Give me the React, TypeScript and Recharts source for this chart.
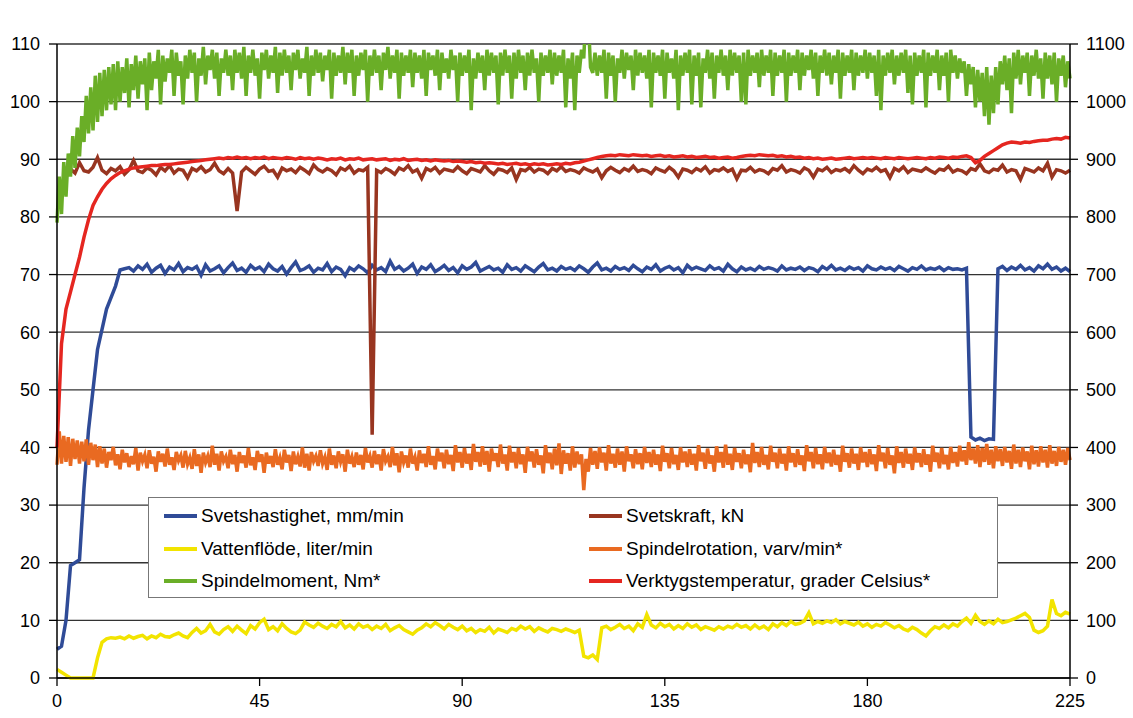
import { LineChart, Line, XAxis, YAxis, CartesianGrid, Legend } from "recharts";

// sampled once per time unit, 0..225
const TIME = Array.from({ length: 226 }, (_, i) => i);
// the two noisy right-axis series are read at half-unit steps, 0..225
const TIME_FINE = Array.from({ length: 451 }, (_, i) => i / 2);

// Svetshastighet, mm/min (left axis)
const SPEED = [
  5, 5.5, 10, 19.5, 20, 20.5, 33, 43, 50, 57,
  60.5, 64, 66, 68, 70.8, 71, 71.2, 70.6, 71.5, 70.9,
  71.8, 70.4, 71.1, 71.6, 70.2, 71.3, 70.8, 71.9, 70.5, 71.2,
  70.9, 71.4, 69.9, 71.7, 70.6, 71.0, 71.5, 70.3, 71.2, 72.0,
  70.7, 71.1, 70.4, 71.6, 70.9, 71.3, 70.5, 71.8, 71.0, 70.6,
  71.4, 70.1, 71.2, 72.2, 70.7, 71.0, 71.5, 70.4, 71.1, 70.8,
  71.9, 70.5, 71.3, 70.9, 69.8, 71.2, 70.7, 71.5, 71.0, 70.3,
  71.6, 70.8, 71.2, 70.5, 72.3, 70.9, 71.4, 70.6, 71.1, 71.8,
  70.2, 71.3, 70.9, 71.7, 70.5, 71.0, 71.6, 70.7, 71.2, 70.3,
  71.5, 70.9, 71.3, 72.1, 70.6, 71.0, 71.4, 70.8, 71.1, 70.4,
  71.7, 70.9, 71.2, 70.6, 71.5, 71.0, 70.5, 71.3, 71.9, 70.8,
  71.1, 70.6, 71.4, 70.9, 71.2, 70.7, 71.5, 71.0, 70.4, 71.3,
  72.0, 70.8, 71.1, 70.6, 71.4, 70.9, 71.2, 70.7, 71.6, 71.0,
  70.5, 71.3, 70.9, 71.7, 70.6, 71.1, 71.4, 70.8, 71.2, 70.3,
  71.6, 70.9, 71.3, 71.0, 70.7, 71.5, 70.9, 71.2, 70.6, 71.8,
  71.0, 70.5, 71.3, 70.8, 71.1, 70.7, 71.4, 70.9, 71.2, 71.0,
  70.6, 71.5, 70.8, 71.1, 70.9, 71.3, 70.7, 71.2, 71.0, 70.5,
  71.4, 70.9, 71.6, 70.8, 71.1, 70.7, 71.3, 70.9, 71.2, 70.6,
  71.5, 71.0, 70.8, 71.3, 70.9, 71.2, 70.7, 71.4, 71.0, 70.6,
  71.2, 70.9, 71.5, 70.8, 71.1, 70.9, 71.3, 70.7, 71.2, 70.9,
  71.0, 70.8, 71.1, 41.8, 41.3, 41.6, 41.2, 41.5, 41.4, 71.0,
  71.4, 70.7, 71.3, 70.9, 71.6, 70.8, 71.2, 70.6, 71.5, 71.0,
  71.8, 70.9, 71.3, 70.6, 71.1, 70.5,
];

// Svetskraft, kN (left axis)
const FORCE = [
  null, null, null, 88.3, 87.6, 89.4, 88.0, 87.8, 88.6, 90.3,
  88.1, 87.5, 88.4, 88.0, 88.7, 87.4, 88.2, 89.8, 88.0, 87.7,
  88.5, 88.1, 87.3, 88.6, 88.0, 88.9, 87.6, 88.3, 88.1, 86.8,
  88.4, 88.0, 88.7, 87.8, 88.2, 89.3, 88.0, 87.5, 88.4, 87.6,
  81.0, 87.8, 88.6, 88.0, 87.4, 88.3, 88.8, 87.9, 88.1, 86.9,
  88.5, 88.0, 88.3, 87.7, 88.6, 88.1, 87.5, 89.0, 88.2, 87.8,
  88.4, 88.0, 87.3, 88.5, 88.1, 88.8, 87.6, 88.2, 88.0, 88.6,
  42.2, 88.1, 87.7, 88.4, 88.0, 87.4, 88.5, 88.1, 88.9, 87.8,
  88.2, 86.7, 88.4, 88.0, 88.6, 87.6, 88.3, 88.1, 87.9, 88.7,
  88.0, 87.5, 88.4, 88.1, 87.8, 88.9, 88.0, 87.4, 88.3, 88.1,
  87.7, 88.5, 86.5, 88.2, 88.0, 88.6, 87.8, 88.3, 88.1, 87.5,
  88.4, 88.0, 88.7, 87.9, 88.2, 88.0, 87.6, 88.5, 88.1, 87.8,
  88.3, 86.8, 88.0, 88.6, 88.1, 87.7, 88.4, 88.0, 88.8, 87.9,
  88.2, 88.0, 87.5, 88.5, 88.1, 87.8, 88.6, 88.0, 86.9, 88.3,
  88.1, 87.7, 88.4, 88.0, 88.7, 87.6, 88.2, 88.0, 88.5, 87.9,
  88.3, 86.6, 88.1, 88.0, 88.6, 87.8, 88.2, 88.0, 87.5, 88.4,
  88.1, 88.9, 87.8, 88.2, 88.0, 87.6, 88.5, 88.1, 86.9, 88.3,
  88.0, 88.6, 87.7, 88.2, 88.0, 88.4, 87.8, 88.9, 88.1, 87.5,
  88.3, 88.0, 88.6, 87.9, 88.2, 86.8, 88.4, 88.0, 88.7, 87.7,
  88.3, 88.1, 87.9, 88.5, 88.0, 87.6, 88.3, 88.1, 88.8, 87.8,
  88.2, 88.0, 87.5, 88.4, 88.1, 89.2, 88.0, 87.7, 88.3, 88.1,
  89.0, 87.8, 88.2, 88.0, 86.5, 88.4, 88.1, 87.8, 88.5, 88.0,
  89.3, 86.9, 88.2, 88.0, 87.6, 88.1,
];

// Vattenflöde, liter/min (left axis)
const WATER = [
  1.5, 1.0, 0.5, 0, 0, 0, 0, 0, 0, 3.5,
  6.2, 6.8, 7.0, 6.9, 7.1, 6.8, 7.3, 6.9, 7.2, 7.4,
  6.8, 7.3, 7.0, 7.6, 7.2, 7.1, 7.5, 7.8, 7.3, 7.0,
  7.9, 8.6, 7.8, 8.2, 9.3, 8.0, 7.6, 8.4, 8.9, 8.1,
  9.0, 8.3, 7.7, 9.1, 8.5, 9.6, 10.2, 8.4, 8.9, 8.2,
  9.4, 8.6, 8.0, 7.7, 8.3, 9.7, 9.2, 8.8, 9.5, 9.0,
  8.6, 9.3, 8.9, 9.8, 8.7, 9.2, 8.5, 9.4, 8.8, 9.1,
  8.4, 9.0, 8.6, 9.3, 8.2, 8.7, 9.1, 8.4, 8.0, 7.6,
  8.3, 8.7, 9.4, 8.9, 9.6, 9.1, 8.5, 9.3, 8.8, 8.4,
  9.0, 8.2, 8.6, 7.9, 8.4, 8.1, 8.8, 7.8, 8.5, 8.2,
  7.9, 8.6, 8.3, 9.0, 8.5, 8.9, 8.1, 8.7, 8.3, 8.0,
  8.6, 8.4, 8.1, 8.5, 8.2, 7.9, 8.3, 3.8, 3.5, 4.0,
  3.2, 8.7, 9.0, 8.4, 8.8, 9.3, 8.6, 9.0, 8.2, 9.4,
  8.8, 11.0, 9.2, 8.7, 9.5, 8.9, 9.3, 8.5, 9.1, 8.6,
  9.4, 8.8, 9.2, 8.4, 8.9, 8.6, 8.3, 8.9, 8.5, 9.0,
  8.7, 9.3, 8.8, 9.1, 8.5, 9.2, 8.6, 9.0, 8.4, 9.4,
  8.9, 9.6, 9.1, 9.8, 9.3, 9.5, 9.9, 11.3, 9.4, 9.8,
  9.5, 9.9, 9.6, 10.1, 9.4, 9.8, 9.5, 9.2, 9.7, 9.0,
  9.4, 8.8, 9.3, 9.0, 9.6, 9.2, 8.7, 9.1, 8.5, 8.2,
  8.8, 8.4, 7.8, 7.3, 8.2, 8.9, 8.6, 9.2, 8.7, 9.4,
  9.0, 9.8, 10.4, 9.5, 10.9, 9.8, 9.3, 9.9, 9.4, 10.2,
  9.6, 9.8, 10.1, 10.4, 10.8, 11.2, 10.5, 8.3, 7.9, 8.2,
  9.0, 13.6, 11.2, 10.8, 11.4, 11.1,
];

// Spindelrotation, varv/min* (right axis), half-unit steps
const ROTATION = [
  370, 428, 372, 420, 375, 418, 368, 415, 380, 412, 372, 410, 376, 414, 370, 408, 378, 405, 366, 402,
  372, 398, 365, 392, 378, 401, 369, 388, 362, 396, 374, 390, 366, 385, 371, 399, 360, 391, 376, 387,
  364, 395, 372, 384, 358, 393, 375, 389, 367, 398, 370, 383, 361, 392, 377, 386, 365, 394, 371, 382,
  363, 397, 368, 388, 356, 391, 374, 385, 366, 403, 370, 389, 360, 393, 376, 384, 364, 396, 371, 387,
  358, 392, 373, 386, 365, 399, 369, 383, 361, 394, 375, 388, 356, 391, 372, 385, 366, 397, 370, 382,
  362, 396, 374, 387, 359, 393, 371, 384, 367, 400, 365, 389, 360, 392, 376, 385, 368, 395, 372, 383,
  361, 398, 370, 386, 364, 393, 375, 388, 358, 396, 372, 384, 366, 391, 370, 387, 362, 399, 374, 385,
  365, 394, 371, 388, 360, 397, 376, 384, 366, 401, 369, 390, 357, 393, 374, 386, 365, 398, 372, 383,
  360, 395, 373, 389, 366, 402, 370, 385, 362, 398, 376, 391, 364, 396, 371, 387, 359, 404, 374, 392,
  365, 399, 372, 389, 361, 406, 375, 392, 367, 402, 370, 394, 358, 398, 377, 390, 366, 405, 372, 388,
  360, 403, 374, 392, 364, 399, 371, 388, 356, 401, 376, 393, 365, 397, 370, 386, 355, 404, 373, 391,
  362, 398, 369, 407, 354, 395, 372, 390, 360, 402, 365, 393, 371, 388, 326, 380, 358, 399, 370, 394,
  363, 400, 374, 391, 360, 404, 372, 389, 365, 398, 370, 393, 358, 402, 376, 388, 364, 397, 371, 390,
  362, 401, 373, 392, 366, 396, 370, 388, 359, 403, 375, 390, 364, 399, 371, 387, 361, 400, 374, 393,
  366, 397, 370, 389, 360, 404, 376, 391, 363, 398, 372, 386, 358, 402, 374, 392, 365, 405, 370, 389,
  361, 399, 375, 390, 364, 396, 371, 388, 357, 408, 373, 392, 366, 401, 370, 387, 362, 403, 375, 391,
  364, 398, 372, 389, 360, 402, 374, 390, 366, 397, 370, 386, 359, 404, 376, 392, 364, 399, 371, 388,
  362, 401, 373, 391, 367, 396, 370, 387, 358, 403, 375, 390, 365, 398, 372, 389, 361, 400, 374, 392,
  366, 397, 371, 388, 359, 404, 376, 391, 364, 399, 370, 386, 355, 402, 373, 392, 365, 398, 372, 389,
  361, 400, 374, 390, 366, 397, 370, 388, 358, 403, 375, 391, 364, 399, 371, 387, 362, 401, 373, 392,
  367, 403, 376, 395, 370, 409, 378, 398, 372, 404, 366, 399, 375, 406, 370, 396, 364, 402, 376, 397,
  368, 401, 374, 394, 363, 405, 372, 396, 366, 400, 376, 393, 362, 403, 371, 395, 367, 402, 374, 396,
  365, 404, 372, 394, 368, 401, 375, 396, 370, 399, 378,
];

// Spindelmoment, Nm* (right axis), half-unit steps
const TORQUE = [
  790, 870, 805, 895, 835, 910, 870, 940, 885, 955, 905, 975, 930, 1010, 945, 1025, 950, 1045, 965, 1050,
  975, 1055, 985, 1060, 995, 1065, 985, 1070, 1000, 1060, 1015, 1075, 990, 1065, 1020, 1080, 1005, 1070, 1030, 1075,
  985, 1085, 1020, 1070, 1040, 1090, 995, 1080, 1035, 1075, 1050, 1090, 1010, 1085, 1045, 1070, 995, 1080, 1040, 1090,
  1050, 1085, 1000, 1075, 1045, 1095, 1030, 1080, 1055, 1090, 1040, 1085, 1010, 1075, 1050, 1090, 1045, 1080, 1020, 1090,
  1050, 1085, 1040, 1095, 1010, 1080, 1050, 1090, 1045, 1075, 1005, 1085, 1055, 1090, 1040, 1080, 1050, 1095, 1015, 1085,
  1045, 1090, 1050, 1080, 1020, 1085, 1055, 1090, 1040, 1075, 1050, 1095, 1010, 1080, 1045, 1090, 1050, 1085, 1035, 1080,
  1055, 1090, 1005, 1085, 1045, 1080, 1050, 1095, 1030, 1085, 1050, 1090, 1010, 1080, 1045, 1085, 1055, 1090, 1000, 1080,
  1045, 1090, 1050, 1080, 1020, 1085, 1055, 1095, 1040, 1080, 1050, 1090, 1005, 1085, 1045, 1080, 1050, 1090, 1025, 1085,
  1050, 1080, 1040, 1090, 1010, 1085, 1055, 1080, 1045, 1090, 1020, 1085, 1050, 1075, 1040, 1090, 1055, 1080, 1000, 1085,
  1045, 1080, 1050, 1090, 985, 1075, 1040, 1085, 1050, 1080, 1020, 1090, 1045, 1085, 1050, 1080, 995, 1085, 1045, 1090,
  1050, 1080, 1005, 1085, 1040, 1090, 1050, 1080, 1020, 1085, 1045, 1090, 1050, 1075, 1000, 1085, 1045, 1080, 1050, 1090,
  1030, 1085, 1045, 1080, 1050, 1090, 990, 1075, 1040, 1085, 985, 1080, 1050, 1090, 1075, 1160, 1145, 1060, 1050, 1085,
  1045, 1080, 1050, 1090, 1005, 1085, 1045, 1080, 1000, 1075, 1050, 1090, 1040, 1085, 1055, 1080, 1020, 1090, 1045, 1085,
  1050, 1080, 1040, 1090, 990, 1085, 1050, 1080, 1045, 1090, 1005, 1085, 1050, 1075, 1040, 1090, 985, 1080, 1045, 1085,
  1050, 1090, 995, 1080, 1045, 1085, 990, 1075, 1050, 1090, 1040, 1085, 1005, 1080, 1050, 1090, 1045, 1080, 1020, 1090,
  1045, 1085, 1050, 1080, 1000, 1085, 995, 1090, 1045, 1080, 1050, 1085, 1025, 1090, 1045, 1080, 1050, 1090, 1010, 1085,
  1045, 1080, 1050, 1090, 1000, 1085, 1045, 1080, 1050, 1090, 1020, 1085, 1045, 1080, 1055, 1090, 1040, 1085, 1010, 1080,
  1050, 1090, 1045, 1085, 1030, 1080, 1050, 1090, 1005, 1085, 1045, 1080, 1050, 1090, 1020, 1085, 1045, 1080, 1050, 1090,
  1040, 1085, 1050, 1080, 1010, 1090, 985, 1080, 1045, 1085, 1050, 1090, 1030, 1080, 1045, 1085, 1050, 1090, 1015, 1080,
  995, 1085, 1045, 1080, 1050, 1090, 990, 1085, 1045, 1080, 1050, 1090, 1020, 1080, 1045, 1085, 1000, 1090, 1050, 1080,
  1040, 1075, 1050, 1070, 1010, 1065, 1030, 1060, 990, 1055, 1000, 1050, 975, 1060, 960, 1045, 980, 1060, 995, 1070,
  1030, 1080, 1020, 1075, 980, 1085, 1040, 1090, 1030, 1080, 1050, 1085, 1010, 1080, 1045, 1090, 1040, 1075, 1005, 1085,
  1040, 1080, 1030, 1085, 1000, 1075, 1045, 1080, 1025, 1070, 1040,
];

// Verktygstemperatur, grader Celsius* (right axis)
const TEMP = [
  400, 580, 640, 670, 700, 730, 765, 795, 820, 835,
  848, 858, 866, 872, 877, 880, 883, 885, 886, 887,
  888, 889, 889, 890, 891, 891, 892, 893, 894, 895,
  896, 897, 898, 899, 900, 901, 902, 901, 903, 902,
  904, 902, 903, 901, 903, 902, 904, 901, 903, 902,
  901, 903, 902, 900, 903, 901, 902, 900, 902, 901,
  899, 901, 900, 902, 899, 901, 900, 902, 899, 900,
  901, 899, 900, 901, 898, 900, 899, 901, 898, 899,
  900, 898, 899, 897, 899, 898, 897, 898, 896, 897,
  896, 895, 896, 894, 895, 893, 894, 893, 892, 893,
  891, 892, 893, 891, 892, 890, 892, 891, 892, 890,
  891, 892, 891, 893, 892, 894, 895, 897, 899, 901,
  903, 905, 906, 907, 906, 908, 907, 906, 908, 907,
  906, 907, 905, 906, 907, 905, 906, 904, 905, 906,
  904, 905, 903, 904, 905, 903, 904, 902, 903, 904,
  902, 903, 905, 906, 907, 906, 908, 907, 906, 907,
  905, 906, 904, 905, 903, 904, 902, 903, 901, 902,
  900, 901, 902, 900, 901, 902, 903, 901, 902, 903,
  902, 903, 902, 901, 903, 902, 901, 903, 902, 901,
  902, 903, 902, 901, 903, 902, 904, 903, 902, 904,
  903, 905, 906, 903, 894, 898, 905, 910, 915, 920,
  925, 928, 930, 929, 928, 930, 929, 931, 932, 933,
  933, 935, 936, 935, 938, 937,
];

const X_TICKS = [0, 45, 90, 135, 180, 225];
const LEFT_TICKS = [0, 10, 20, 30, 40, 50, 60, 70, 80, 90, 100, 110];
const RIGHT_TICKS = [0, 100, 200, 300, 400, 500, 600, 700, 800, 900, 1000, 1100];

const rows = TIME.map((t, i) => ({
  t,
  speed: SPEED[i],
  force: FORCE[i],
  water: WATER[i],
  temp: TEMP[i],
}));

const fineRows = TIME_FINE.map((t, i) => ({
  t,
  rotation: ROTATION[i],
  torque: TORQUE[i],
}));

const SERIES = [
  { key: "speed", name: "Svetshastighet, mm/min", color: "#2f4b97", right: false, fine: false, width: 3.5 },
  { key: "force", name: "Svetskraft, kN", color: "#983520", right: false, fine: false, width: 3.5 },
  { key: "water", name: "Vattenflöde, liter/min", color: "#f2e400", right: false, fine: false, width: 3.5 },
  { key: "rotation", name: "Spindelrotation, varv/min*", color: "#e96a21", right: true, fine: true, width: 3.5 },
  { key: "torque", name: "Spindelmoment, Nm*", color: "#6aae27", right: true, fine: true, width: 3.5 },
  { key: "temp", name: "Verktygstemperatur, grader Celsius*", color: "#e52620", right: true, fine: false, width: 3.5 },
];

const FONT = "'Liberation Sans', Arial, sans-serif";
const tickStyle = { fill: "#000", fontSize: 18, fontFamily: FONT };
const ROW_Y = [18, 51, 83];

const LegendBox = () => (
  <div
    style={{
      position: "relative",
      width: 850,
      height: 101,
      boxSizing: "border-box",
      border: "1.5px solid #777",
      background: "#fff",
      fontFamily: FONT,
    }}
  >
    {SERIES.map((s, i) => (
      <div
        key={s.key}
        style={{
          position: "absolute",
          left: i % 2 === 0 ? 15 : 440,
          top: ROW_Y[Math.floor(i / 2)] - 12,
          height: 24,
          display: "flex",
          alignItems: "center",
          whiteSpace: "nowrap",
        }}
      >
        <span style={{ width: 33, height: 4, background: s.color, marginRight: 4 }} />
        <span style={{ fontSize: 19, lineHeight: "24px", color: "#000" }}>{s.name}</span>
      </div>
    ))}
  </div>
);

export default function App() {
  return (
    <div style={{ position: "absolute", left: 0, top: 0, width: 1133, height: 718, background: "#fff", fontFamily: FONT }}>
      <LineChart width={1133} height={718} data={rows} margin={{ top: 44, right: 0, bottom: 0, left: 0 }}>
        <CartesianGrid vertical={false} stroke="#333" strokeWidth={1.3} />
        <XAxis
          dataKey="t"
          type="number"
          domain={[0, 225]}
          ticks={X_TICKS}
          height={40}
          tickSize={8}
          tickMargin={8}
          tick={tickStyle}
          axisLine={{ stroke: "#000", strokeWidth: 1.5 }}
          tickLine={{ stroke: "#000", strokeWidth: 1.3 }}
        />
        <YAxis
          type="number"
          domain={[0, 110]}
          ticks={LEFT_TICKS}
          width={57}
          tickSize={8}
          tickMargin={9}
          tick={tickStyle}
          axisLine={{ stroke: "#000", strokeWidth: 1.5 }}
          tickLine={{ stroke: "#000", strokeWidth: 1.3 }}
        />
        <YAxis
          yAxisId="right"
          orientation="right"
          type="number"
          domain={[0, 1100]}
          ticks={RIGHT_TICKS}
          width={63}
          tickSize={8}
          tickMargin={8}
          tick={{ ...tickStyle, textAnchor: "start" }}
          axisLine={{ stroke: "#000", strokeWidth: 1.5 }}
          tickLine={{ stroke: "#000", strokeWidth: 1.3 }}
          allowDataOverflow
        />
        {SERIES.map((s) => (
          <Line
            key={s.key}
            data={s.fine ? fineRows : rows}
            yAxisId={s.right ? "right" : 0}
            dataKey={s.key}
            name={s.name}
            type="linear"
            stroke={s.color}
            strokeWidth={s.width}
            dot={false}
            activeDot={false}
            isAnimationActive={false}
          />
        ))}
        <Legend
          layout="horizontal"
          verticalAlign="middle"
          align="center"
          content={() => <LegendBox />}
          wrapperStyle={{ position: "absolute", left: 148, top: 497, width: 850, height: 101, margin: 0 }}
        />
      </LineChart>
    </div>
  );
}
